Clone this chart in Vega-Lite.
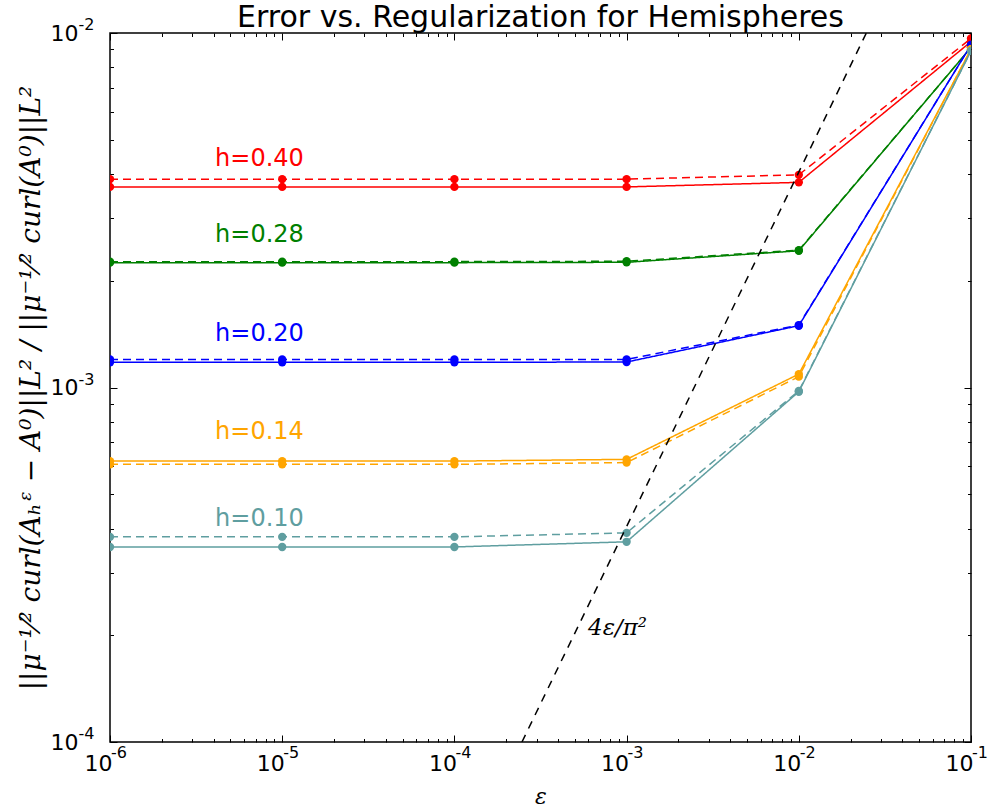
{
  "$schema": "https://vega.github.io/schema/vega-lite/v6.json",
  "autosize": {"type": "none"},
  "padding": {"left": 110, "top": 33, "right": 23, "bottom": 68},
  "width": 861,
  "height": 709,
  "background": "white",
  "title": {"text": "Error vs. Regularization for Hemispheres", "font": "DejaVu Sans", "fontSize": 30, "fontWeight": "normal", "color": "black", "anchor": "middle", "offset": -16},
  "config": {"view": {"stroke": "black", "strokeWidth": 1.5}},
  "datasets": {
    "curves": [
      {"h": "0.40", "kind": "solid", "eps": 0.000001, "err": 0.00368},
      {"h": "0.40", "kind": "solid", "eps": 0.00001, "err": 0.00368},
      {"h": "0.40", "kind": "solid", "eps": 0.0001, "err": 0.00368},
      {"h": "0.40", "kind": "solid", "eps": 0.001, "err": 0.00368},
      {"h": "0.40", "kind": "solid", "eps": 0.01, "err": 0.00379},
      {"h": "0.40", "kind": "solid", "eps": 0.1, "err": 0.00945},
      {"h": "0.40", "kind": "dashed", "eps": 0.000001, "err": 0.00387},
      {"h": "0.40", "kind": "dashed", "eps": 0.00001, "err": 0.00387},
      {"h": "0.40", "kind": "dashed", "eps": 0.0001, "err": 0.00387},
      {"h": "0.40", "kind": "dashed", "eps": 0.001, "err": 0.00387},
      {"h": "0.40", "kind": "dashed", "eps": 0.01, "err": 0.00398},
      {"h": "0.40", "kind": "dashed", "eps": 0.1, "err": 0.00965},
      {"h": "0.28", "kind": "solid", "eps": 0.000001, "err": 0.00225},
      {"h": "0.28", "kind": "solid", "eps": 0.00001, "err": 0.00225},
      {"h": "0.28", "kind": "solid", "eps": 0.0001, "err": 0.00225},
      {"h": "0.28", "kind": "solid", "eps": 0.001, "err": 0.002255},
      {"h": "0.28", "kind": "solid", "eps": 0.01, "err": 0.00243},
      {"h": "0.28", "kind": "solid", "eps": 0.1, "err": 0.0091},
      {"h": "0.28", "kind": "dashed", "eps": 0.000001, "err": 0.002265},
      {"h": "0.28", "kind": "dashed", "eps": 0.00001, "err": 0.002265},
      {"h": "0.28", "kind": "dashed", "eps": 0.0001, "err": 0.002265},
      {"h": "0.28", "kind": "dashed", "eps": 0.001, "err": 0.00227},
      {"h": "0.28", "kind": "dashed", "eps": 0.01, "err": 0.00244},
      {"h": "0.28", "kind": "dashed", "eps": 0.1, "err": 0.0091},
      {"h": "0.20", "kind": "solid", "eps": 0.000001, "err": 0.001178},
      {"h": "0.20", "kind": "solid", "eps": 0.00001, "err": 0.001178},
      {"h": "0.20", "kind": "solid", "eps": 0.0001, "err": 0.001178},
      {"h": "0.20", "kind": "solid", "eps": 0.001, "err": 0.00118},
      {"h": "0.20", "kind": "solid", "eps": 0.01, "err": 0.001494},
      {"h": "0.20", "kind": "solid", "eps": 0.1, "err": 0.00925},
      {"h": "0.20", "kind": "dashed", "eps": 0.000001, "err": 0.0012},
      {"h": "0.20", "kind": "dashed", "eps": 0.00001, "err": 0.0012},
      {"h": "0.20", "kind": "dashed", "eps": 0.0001, "err": 0.0012},
      {"h": "0.20", "kind": "dashed", "eps": 0.001, "err": 0.0012},
      {"h": "0.20", "kind": "dashed", "eps": 0.01, "err": 0.0015},
      {"h": "0.20", "kind": "dashed", "eps": 0.1, "err": 0.00925},
      {"h": "0.14", "kind": "solid", "eps": 0.000001, "err": 0.00062},
      {"h": "0.14", "kind": "solid", "eps": 0.00001, "err": 0.00062},
      {"h": "0.14", "kind": "solid", "eps": 0.0001, "err": 0.00062},
      {"h": "0.14", "kind": "solid", "eps": 0.001, "err": 0.000627},
      {"h": "0.14", "kind": "solid", "eps": 0.01, "err": 0.001091},
      {"h": "0.14", "kind": "solid", "eps": 0.1, "err": 0.009},
      {"h": "0.14", "kind": "dashed", "eps": 0.000001, "err": 0.000607},
      {"h": "0.14", "kind": "dashed", "eps": 0.00001, "err": 0.000607},
      {"h": "0.14", "kind": "dashed", "eps": 0.0001, "err": 0.000607},
      {"h": "0.14", "kind": "dashed", "eps": 0.001, "err": 0.000614},
      {"h": "0.14", "kind": "dashed", "eps": 0.01, "err": 0.001073},
      {"h": "0.14", "kind": "dashed", "eps": 0.1, "err": 0.009},
      {"h": "0.10", "kind": "solid", "eps": 0.000001, "err": 0.000355},
      {"h": "0.10", "kind": "solid", "eps": 0.00001, "err": 0.000355},
      {"h": "0.10", "kind": "solid", "eps": 0.0001, "err": 0.000355},
      {"h": "0.10", "kind": "solid", "eps": 0.001, "err": 0.000367},
      {"h": "0.10", "kind": "solid", "eps": 0.01, "err": 0.000973},
      {"h": "0.10", "kind": "solid", "eps": 0.1, "err": 0.0089},
      {"h": "0.10", "kind": "dashed", "eps": 0.000001, "err": 0.000379},
      {"h": "0.10", "kind": "dashed", "eps": 0.00001, "err": 0.000379},
      {"h": "0.10", "kind": "dashed", "eps": 0.0001, "err": 0.000379},
      {"h": "0.10", "kind": "dashed", "eps": 0.001, "err": 0.000389},
      {"h": "0.10", "kind": "dashed", "eps": 0.01, "err": 0.000978},
      {"h": "0.10", "kind": "dashed", "eps": 0.1, "err": 0.0089}
    ],
    "reference": [
      {"eps": 0.00024674, "err": 0.0001},
      {"eps": 0.024674, "err": 0.01}
    ],
    "labels": [
      {"h": "0.40", "label": "h=0.40", "eps": 0.00000738, "err": 0.004223},
      {"h": "0.28", "label": "h=0.28", "eps": 0.00000738, "err": 0.002578},
      {"h": "0.20", "label": "h=0.20", "eps": 0.00000738, "err": 0.001355},
      {"h": "0.14", "label": "h=0.14", "eps": 0.00000738, "err": 0.0007143},
      {"h": "0.10", "label": "h=0.10", "eps": 0.00000738, "err": 0.0004075}
    ],
    "annot": [
      {"label": "4ε/π²", "eps": 0.000597, "err": 0.0002004}
    ],
    "xexp": [
      {"eps": 0.000001, "exp": "-6"},
      {"eps": 0.00001, "exp": "-5"},
      {"eps": 0.0001, "exp": "-4"},
      {"eps": 0.001, "exp": "-3"},
      {"eps": 0.01, "exp": "-2"},
      {"eps": 0.1, "exp": "-1"}
    ],
    "yexp": [
      {"err": 0.0001, "exp": "-4"},
      {"err": 0.001, "exp": "-3"},
      {"err": 0.01, "exp": "-2"}
    ]
  },
  "resolve": {"axis": {"x": "independent", "y": "independent"}},
  "layer": [
    {
      "data": {"name": "curves"},
      "mark": {"type": "line", "strokeWidth": 1.5, "clip": true, "point": {"filled": true, "size": 70, "opacity": 1}},
      "encoding": {
        "x": {"field": "eps", "type": "quantitative",
          "scale": {"type": "log", "domain": [0.000001, 0.1], "nice": false},
          "axis": {"orient": "bottom", "grid": false, "domain": false,
            "values": [0.000001,0.000002,0.000003,0.000004,0.000005,0.000006,0.000007,0.000008,0.000009,0.00001,0.00002,0.00003,0.00004,0.00005,0.00006,0.00007,0.00008,0.00009,0.0001,0.0002,0.0003,0.0004,0.0005,0.0006,0.0007,0.0008,0.0009,0.001,0.002,0.003,0.004,0.005,0.006,0.007,0.008,0.009,0.01,0.02,0.03,0.04,0.05,0.06,0.07,0.08,0.09,0.1],
            "tickColor": "black", "tickWidth": 1,
            "tickSize": {"condition": {"test": "abs(log(datum.value)/LN10 - round(log(datum.value)/LN10)) < 0.001", "value": -7}, "value": -3.5},
            "labelExpr": "abs(log(datum.value)/LN10 - round(log(datum.value)/LN10)) < 0.001 ? '10' : ''",
            "labelFont": "DejaVu Sans", "labelFontSize": 22, "labelColor": "black", "labelPadding": 35,
            "labelBaseline": "alphabetic", "labelOffset": -12,
            "labelFlush": false, "labelOverlap": false, "labelBound": false,
            "title": "ε", "titleFont": "DejaVu Serif", "titleFontStyle": "italic", "titleFontWeight": "normal", "titleFontSize": 22, "titleColor": "black", "titlePadding": 9}},
        "y": {"field": "err", "type": "quantitative",
          "scale": {"type": "log", "domain": [0.0001, 0.01], "nice": false},
          "axis": {"orient": "left", "grid": false, "domain": false,
            "values": [0.0001,0.0002,0.0003,0.0004,0.0005,0.0006,0.0007,0.0008,0.0009,0.001,0.002,0.003,0.004,0.005,0.006,0.007,0.008,0.009,0.01],
            "tickColor": "black", "tickWidth": 1,
            "tickSize": {"condition": {"test": "abs(log(datum.value)/LN10 - round(log(datum.value)/LN10)) < 0.001", "value": -7}, "value": -3.5},
            "labelExpr": "abs(log(datum.value)/LN10 - round(log(datum.value)/LN10)) < 0.001 ? '10' : ''",
            "labelFont": "DejaVu Sans", "labelFontSize": 22, "labelColor": "black", "labelPadding": 39,
            "labelFlush": false, "labelOverlap": false, "labelBound": false,
            "title": "||μ⁻¹⁄² curl(Aₕᵋ − A⁰)||L² / ||μ⁻¹⁄² curl(A⁰)||L²", "titleFont": "DejaVu Serif", "titleFontStyle": "italic", "titleFontWeight": "normal", "titleFontSize": 28, "titleColor": "black", "titlePadding": 5}},
        "color": {"field": "h", "type": "nominal",
          "scale": {"domain": ["0.40", "0.28", "0.20", "0.14", "0.10"], "range": ["#ff0000", "#008000", "#0000ff", "#ffa500", "#5f9ea0"]},
          "legend": null},
        "strokeDash": {"field": "kind", "type": "nominal",
          "scale": {"domain": ["solid", "dashed"], "range": [[1, 0], [8, 5]]},
          "legend": null}
      }
    },
    {
      "data": {"name": "reference"},
      "mark": {"type": "line", "color": "black", "strokeWidth": 1.5, "strokeDash": [8, 7], "clip": true},
      "encoding": {
        "x": {"field": "eps", "type": "quantitative",
          "axis": {"orient": "top", "grid": false, "domain": false, "labels": false, "title": null, "minExtent": 0, "maxExtent": 0,
            "values": [0.000001,0.000002,0.000003,0.000004,0.000005,0.000006,0.000007,0.000008,0.000009,0.00001,0.00002,0.00003,0.00004,0.00005,0.00006,0.00007,0.00008,0.00009,0.0001,0.0002,0.0003,0.0004,0.0005,0.0006,0.0007,0.0008,0.0009,0.001,0.002,0.003,0.004,0.005,0.006,0.007,0.008,0.009,0.01,0.02,0.03,0.04,0.05,0.06,0.07,0.08,0.09,0.1],
            "tickColor": "black", "tickWidth": 1,
            "tickSize": {"condition": {"test": "abs(log(datum.value)/LN10 - round(log(datum.value)/LN10)) < 0.001", "value": -7}, "value": -3.5}}},
        "y": {"field": "err", "type": "quantitative",
          "axis": {"orient": "right", "grid": false, "domain": false, "labels": false, "title": null, "minExtent": 0, "maxExtent": 0,
            "values": [0.0001,0.0002,0.0003,0.0004,0.0005,0.0006,0.0007,0.0008,0.0009,0.001,0.002,0.003,0.004,0.005,0.006,0.007,0.008,0.009,0.01],
            "tickColor": "black", "tickWidth": 1,
            "tickSize": {"condition": {"test": "abs(log(datum.value)/LN10 - round(log(datum.value)/LN10)) < 0.001", "value": -7}, "value": -3.5}}}
      }
    },
    {
      "data": {"name": "labels"},
      "mark": {"type": "text", "font": "DejaVu Sans", "fontSize": 24, "align": "center", "baseline": "alphabetic"},
      "encoding": {
        "x": {"field": "eps", "type": "quantitative", "axis": null},
        "y": {"field": "err", "type": "quantitative", "axis": null},
        "text": {"field": "label"},
        "color": {"field": "h", "type": "nominal", "legend": null}
      }
    },
    {
      "data": {"name": "annot"},
      "mark": {"type": "text", "font": "DejaVu Serif", "fontStyle": "italic", "fontSize": 23, "align": "left", "baseline": "alphabetic", "color": "black"},
      "encoding": {
        "x": {"field": "eps", "type": "quantitative", "axis": null},
        "y": {"field": "err", "type": "quantitative", "axis": null},
        "text": {"field": "label"}
      }
    },
    {
      "data": {"name": "xexp"},
      "mark": {"type": "text", "font": "DejaVu Sans", "fontSize": 16, "align": "left", "baseline": "alphabetic", "color": "black", "dx": 1, "dy": 16},
      "encoding": {
        "x": {"field": "eps", "type": "quantitative", "axis": null},
        "y": {"datum": 0.0001, "type": "quantitative", "axis": null},
        "text": {"field": "exp"}
      }
    },
    {
      "data": {"name": "yexp"},
      "mark": {"type": "text", "font": "DejaVu Sans", "fontSize": 16, "align": "left", "baseline": "alphabetic", "color": "black", "dx": -31.5, "dy": -3},
      "encoding": {
        "x": {"datum": 0.000001, "type": "quantitative", "axis": null},
        "y": {"field": "err", "type": "quantitative", "axis": null},
        "text": {"field": "exp"}
      }
    }
  ]
}
